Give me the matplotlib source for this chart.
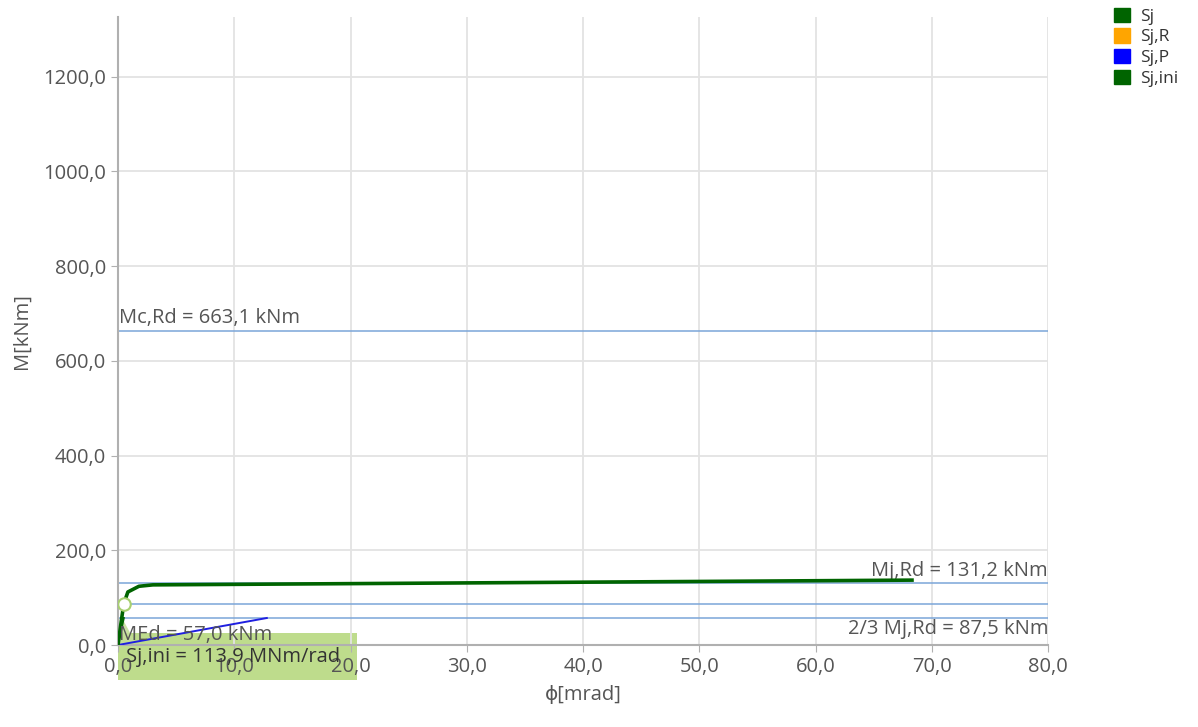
import matplotlib
matplotlib.use("Agg")
import matplotlib.pyplot as plt
from matplotlib.patches import Rectangle, Patch

plt.rcParams['font.family'] = ['Open Sans', 'DejaVu Sans']

# Data
sj_phi = [0.0, 0.25, 0.5, 0.85, 1.8, 3.0, 68.3]
sj_m = [0.0, 45.0, 87.5, 112.0, 124.0, 127.0, 137.0]
sjp_phi = [0.0, 12.8]
sjp_m = [0.0, 57.0]
sjini_phi = [0.0, 0.5]
sjini_m = [0.0, 57.0]
sjr_phi = [0.0, 0.3]
sjr_m = [0.0, 40.0]
fill_phi = [0.0, 0.35, 1.5, 0.0]
fill_m = [0.0, 57.0, 5.0, 0.0]
Mc_Rd = 663.1
Mj_Rd = 131.2
Mj_Rd_23 = 87.5
M_Ed = 57.0
Sj_ini = 113.9
x_ticks = [0, 10, 20, 30, 40, 50, 60, 70, 80]
y_ticks = [0, 200, 400, 600, 800, 1000, 1200]
legend_labels = ['Sj', 'Sj,R', 'Sj,P', 'Sj,ini']
legend_colors = ['#006400', '#FFA500', '#0000FF', '#006400']

def fmt(v):
    return f"{v:.1f}".replace('.', ',')

FS = 14.5
fig = plt.figure(figsize=(11.98, 7.27), dpi=100)

# Annotation box (drawn beneath transparent axes)
box = Rectangle((118/1198, (727-680)/727), (357-118)/1198, (680-633)/727,
                transform=fig.transFigure, facecolor='#b3d678', edgecolor='none',
                alpha=0.85, zorder=-1)
fig.patches.append(box)

ax = fig.add_axes([118/1198, 82/727, 930/1198, (645-17)/727])
ax.patch.set_alpha(0)
ax.set_xlim(0, 80)
ax.set_ylim(0, 2 * Mc_Rd)

ax.set_xticks(x_ticks)
ax.set_yticks(y_ticks)
ax.set_xticklabels([fmt(v) for v in x_ticks])
ax.set_yticklabels([fmt(v) for v in y_ticks])
ax.grid(True, color='#e3e3e3', linewidth=1.3)
ax.set_axisbelow(True)
for s in ['top', 'right']:
    ax.spines[s].set_visible(False)
for s in ['left', 'bottom']:
    ax.spines[s].set_color('#b0b0b0')
    ax.spines[s].set_linewidth(1.5)
ax.tick_params(colors='#b0b0b0', labelcolor='#555555', labelsize=FS, length=5)

tc = '#555555'
for m in [Mc_Rd, Mj_Rd, Mj_Rd_23, M_Ed]:
    ax.axhline(m, color='#7aa6d8', linewidth=1.1, zorder=2)

ax.text(0.05, Mc_Rd + 6, f"Mc,Rd = {fmt(Mc_Rd)} kNm", color=tc, fontsize=FS, ha='left', va='bottom')
ax.text(80, Mj_Rd + 3, f"Mj,Rd = {fmt(Mj_Rd)} kNm", color=tc, fontsize=FS, ha='right', va='bottom')
ax.text(80, M_Ed - 2, f"2/3 Mj,Rd = {fmt(Mj_Rd_23)} kNm", color=tc, fontsize=FS, ha='right', va='top')

ax.fill(fill_phi, fill_m, color='#c5df9a', alpha=0.9, zorder=3, linewidth=0)
ax.plot(sjp_phi, sjp_m, color='#1f1fe0', linewidth=1.4, zorder=4)
ax.plot(sjr_phi, sjr_m, color='#d4b000', linewidth=1.2, zorder=4)
ax.plot(sjini_phi, sjini_m, color='#006400', linewidth=1.4, zorder=4)
ax.plot(sj_phi, sj_m, color='#006400', linewidth=2.6, zorder=5)
ax.plot([0.5], [Mj_Rd_23], marker='o', markersize=9, markerfacecolor='white',
        markeredgecolor='#a8d070', markeredgewidth=1.5, zorder=6)

ax.text(0.05, M_Ed - 14, f"MEd = {fmt(M_Ed)} kNm", color=tc, fontsize=FS, ha='left', va='top',
        zorder=7, clip_on=False)

fig.text(126/1198, (727-657)/727, f"Sj,ini = {fmt(Sj_ini)} MNm/rad", color='#333333',
         fontsize=FS, ha='left', va='center', zorder=8)

ax.set_xlabel('ϕ[mrad]', color=tc, fontsize=FS, labelpad=6)
ax.set_ylabel('M[kNm]', color=tc, fontsize=FS, labelpad=8)

handles = [Patch(facecolor=c, edgecolor=c) for c in legend_colors]
fig.legend(handles, legend_labels, loc='upper left', bbox_to_anchor=(1104/1198, 1.004),
           frameon=False, fontsize=12.5, handlelength=0.9, handleheight=0.9,
           handletextpad=0.6, labelspacing=0.2, labelcolor='#333333', borderaxespad=0.2)

fig.savefig('out.png', dpi=100)
